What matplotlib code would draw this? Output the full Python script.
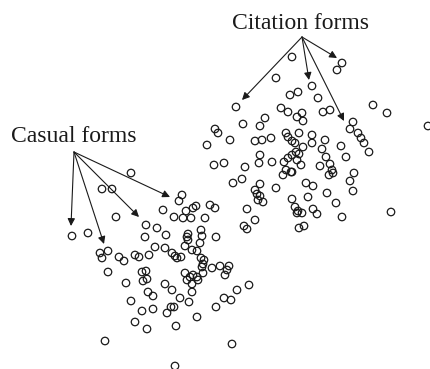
import matplotlib
matplotlib.use('Agg')
from matplotlib import pyplot as plt

# point positions (pixel space, y grows downward)
citation_x = [292, 342, 337, 276, 312, 298, 290, 318, 236, 281, 288, 302, 297, 303, 323, 330,
              373, 387, 428, 265, 260, 243, 215, 218, 230, 207, 255, 262, 271, 286, 288, 292,
              299, 295, 312, 325, 312, 341, 353, 350, 358, 361, 364, 369, 303, 322, 326, 330,
              332, 333, 329, 346, 292, 301, 320, 354, 350, 353, 292, 306, 313, 327, 308, 336,
              292, 295, 298, 302, 297, 313, 317, 342, 391, 299, 304, 260, 259, 272, 245, 214,
              224, 233, 242, 260, 255, 257, 260, 258, 263, 276, 284, 288, 296, 299, 297, 286,
              291, 283]
citation_y = [57, 63, 70, 78, 86, 92, 95, 98, 107, 108, 112, 113, 117, 121, 112, 110,
              105, 113, 126, 118, 126, 124, 129, 133, 140, 145, 141, 140, 138, 133, 137, 141,
              133, 143, 135, 140, 143, 146, 122, 129, 133, 138, 143, 152, 147, 149, 157, 164,
              170, 173, 175, 157, 155, 165, 166, 173, 181, 191, 172, 183, 186, 193, 197, 203,
              199, 207, 211, 213, 213, 209, 214, 217, 212, 228, 226, 155, 163, 162, 167, 165,
              163, 183, 179, 184, 190, 194, 196, 200, 202, 188, 162, 158, 152, 154, 160, 170,
              172, 175]

casual_x = [131, 102, 112, 182, 179, 116, 163, 146, 157, 166, 145, 72, 88, 100, 108, 102,
            119, 124, 135, 139, 149, 155, 165, 174, 183, 191, 186, 193, 196, 205, 210, 215,
            201, 202, 200, 188, 187, 188, 216, 185, 192, 197, 172, 175, 177, 181, 201, 204,
            203, 247, 255, 244, 247, 212, 220, 229, 227, 225, 185, 187, 190, 193, 197, 198,
            192, 202, 203, 165, 192, 172, 180, 189, 237, 249, 224, 231, 216, 171, 174, 167,
            197, 176, 232, 175, 108, 142, 146, 143, 147, 126, 148, 153, 131, 142, 153, 135,
            147, 105]
casual_y = [173, 189, 189, 195, 201, 217, 210, 225, 228, 235, 237, 236, 233, 253, 251, 258,
            257, 261, 255, 257, 255, 247, 248, 217, 218, 218, 211, 208, 206, 218, 205, 208,
            230, 236, 243, 234, 237, 240, 237, 246, 250, 251, 253, 256, 258, 257, 258, 260,
            264, 209, 220, 226, 229, 268, 266, 266, 270, 275, 273, 280, 277, 275, 277, 280,
            284, 267, 273, 284, 292, 290, 298, 302, 290, 285, 298, 300, 307, 307, 307, 313,
            317, 326, 344, 366, 272, 272, 271, 281, 279, 283, 292, 296, 301, 311, 309, 322,
            329, 341]

citation_label = 'Citation forms'
citation_origin = (302, 37)
citation_tips = [(242, 100), (309, 80), (337, 58), (344, 121)]

casual_label = 'Casual forms'
casual_origin = (74, 152)
casual_tips = [(71, 226), (104, 244), (139, 217), (170, 197)]

fig = plt.figure(figsize=(4.31, 3.69), dpi=100)
ax = fig.add_axes([0, 0, 1, 1])
ax.set_xlim(0, 431)
ax.set_ylim(369, 0)
ax.axis('off')

ax.scatter(citation_x + casual_x, citation_y + casual_y, s=29, facecolors='none',
           edgecolors='#1a1a1a', linewidths=0.9, zorder=3)

for tip in citation_tips:
    ax.annotate('', xy=tip, xytext=citation_origin,
                arrowprops=dict(arrowstyle='-|>', color='#1a1a1a', lw=0.8,
                                mutation_scale=11, shrinkA=0, shrinkB=0))
for tip in casual_tips:
    ax.annotate('', xy=tip, xytext=casual_origin,
                arrowprops=dict(arrowstyle='-|>', color='#1a1a1a', lw=0.8,
                                mutation_scale=11, shrinkA=0, shrinkB=0))

ax.text(301, 29, citation_label, ha='center', va='baseline', fontsize=17,
        family='Liberation Serif', color='#1a1a1a')
ax.text(73.5, 142, casual_label, ha='center', va='baseline', fontsize=17,
        family='Liberation Serif', color='#1a1a1a')

plt.savefig('out.png', dpi=100)
